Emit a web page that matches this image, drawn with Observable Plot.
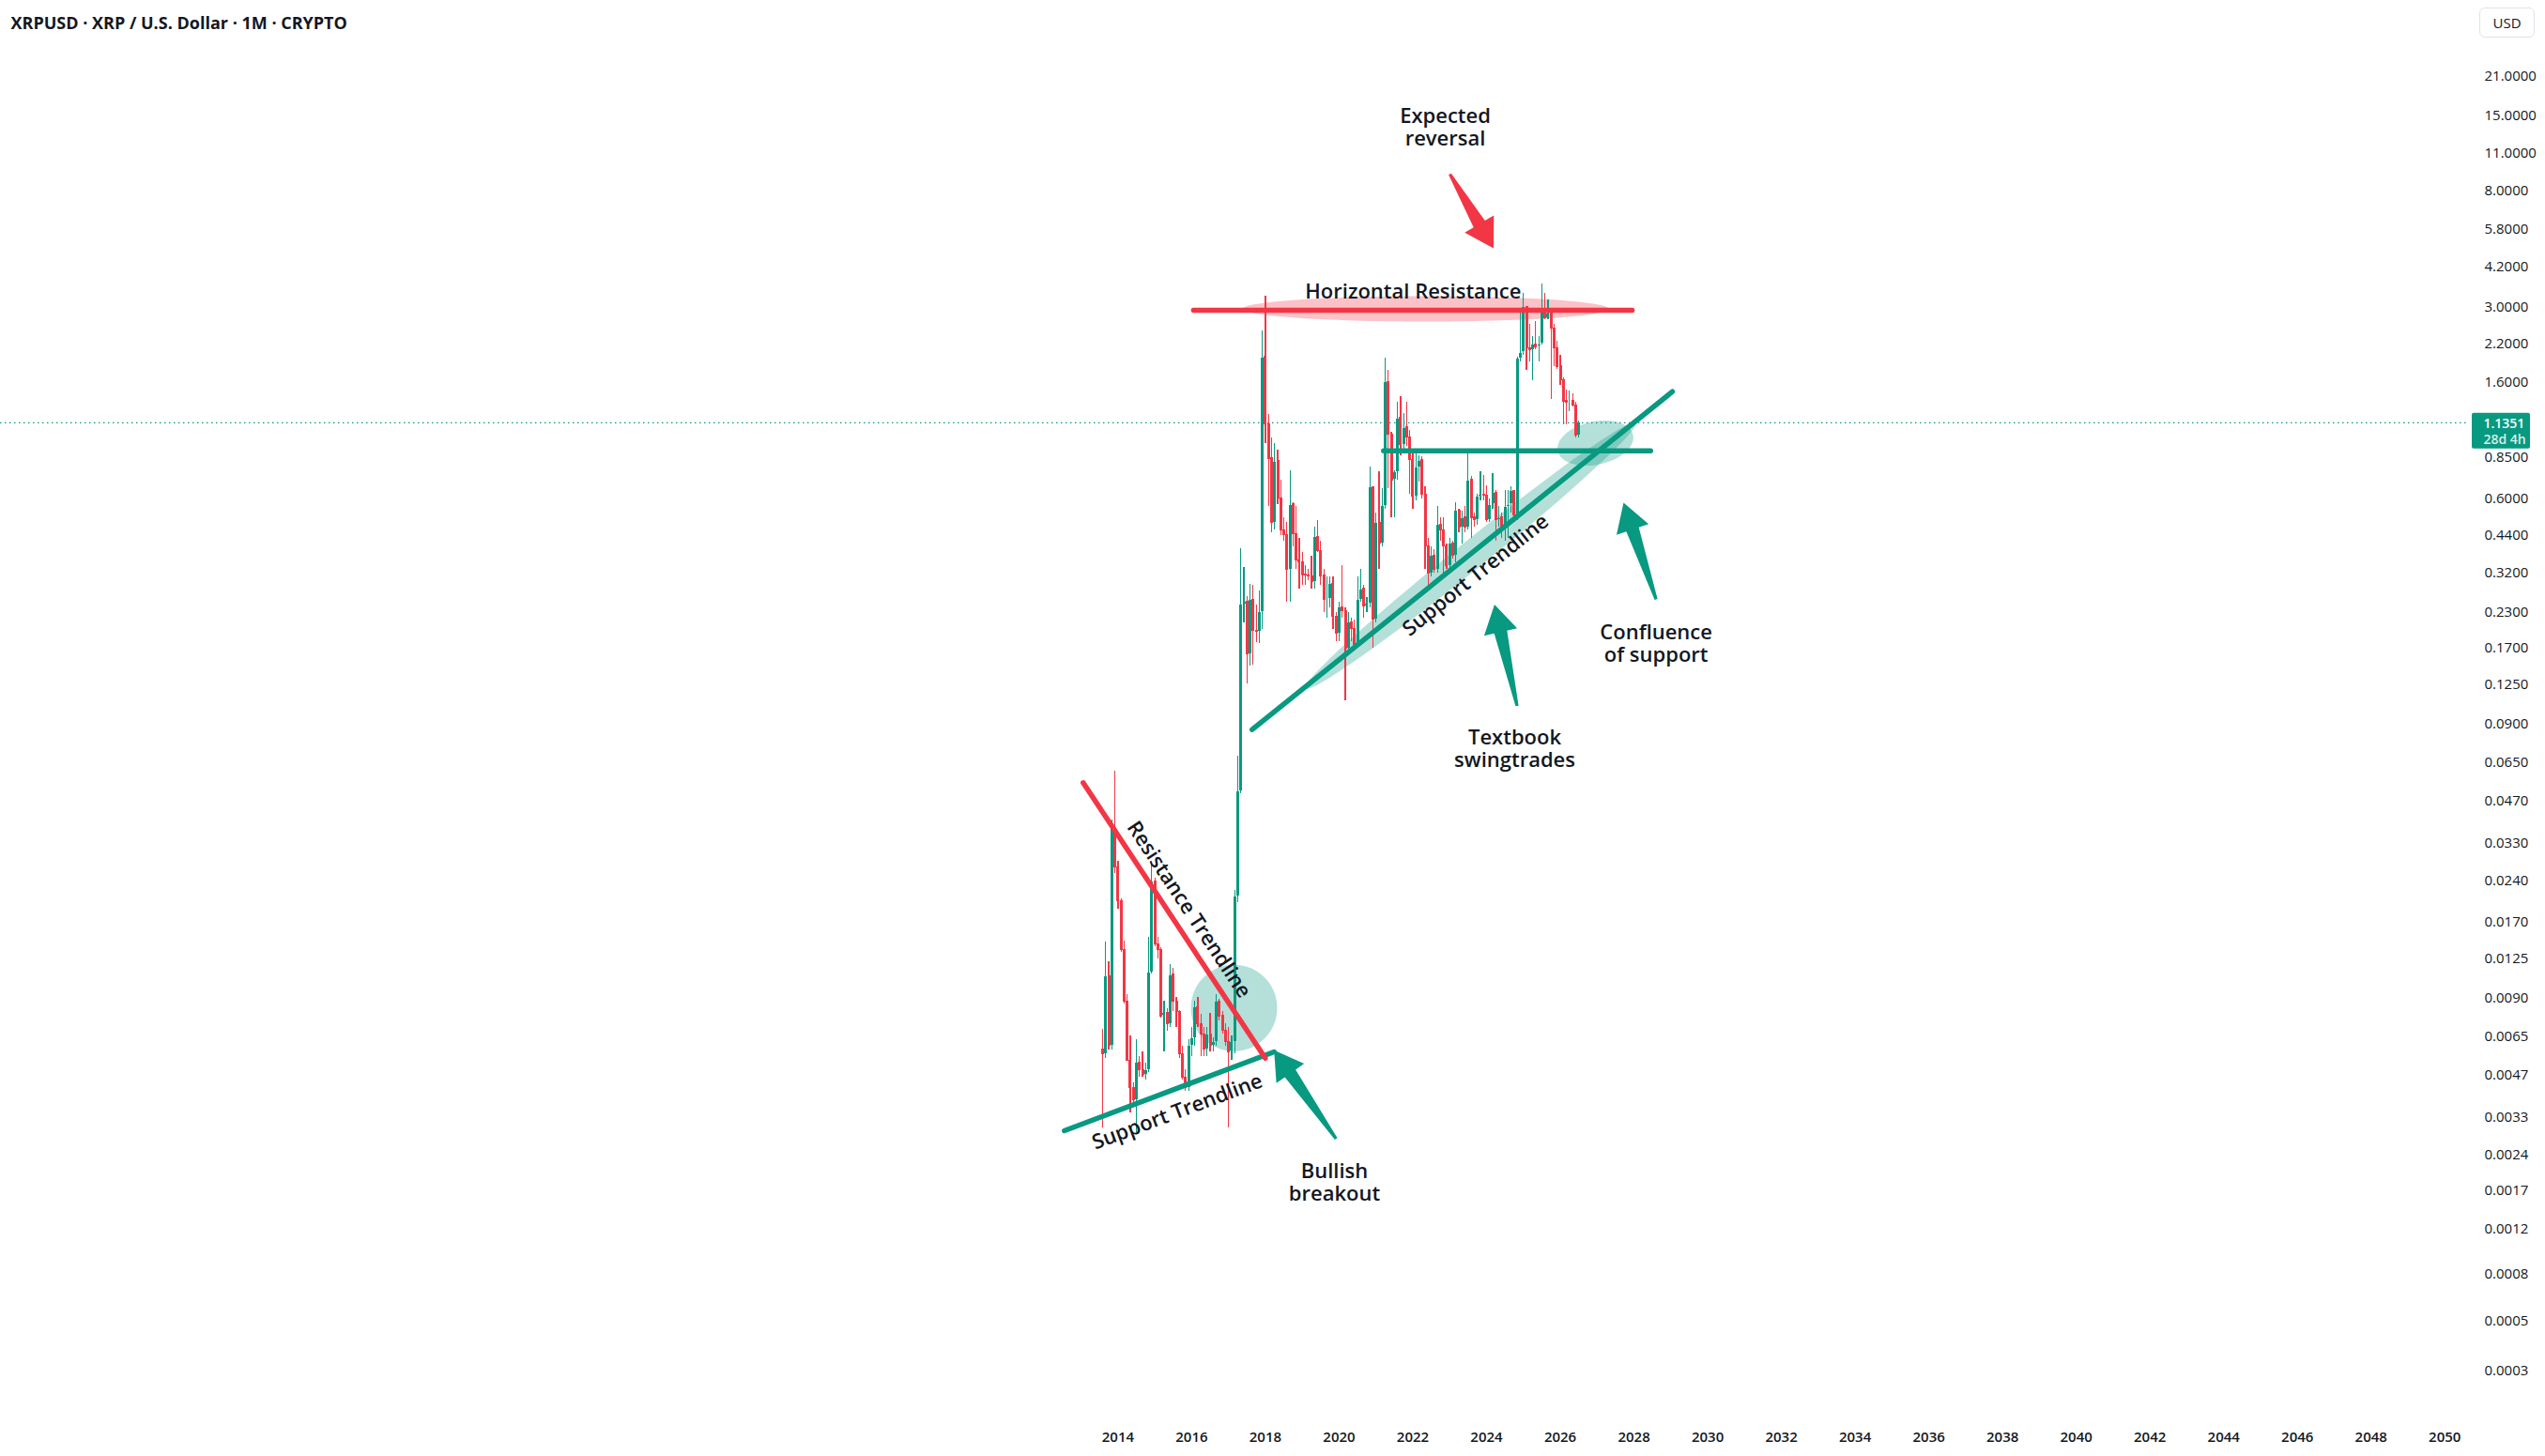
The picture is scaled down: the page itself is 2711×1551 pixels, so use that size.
<!DOCTYPE html>
<html><head><meta charset="utf-8">
<script src="https://cdn.jsdelivr.net/npm/d3@7"></script>
<script src="https://cdn.jsdelivr.net/npm/@observablehq/plot@0.6"></script>
<style>
html,body{margin:0;padding:0;background:#fff;overflow:hidden;}
#wrap{position:relative;width:2711px;height:1551px;overflow:hidden;}
#usd{position:absolute;z-index:2;left:2641px;top:8px;width:59px;height:32px;border:1px solid #e0e3eb;border-radius:6px;box-sizing:border-box;font:15px 'Open Sans',sans-serif;color:#131722;display:flex;align-items:center;justify-content:center;}
</style></head>
<body><div id="wrap"><div id="usd">USD</div></div>
<script>
// ---------- data ----------
const title = "XRPUSD · XRP / U.S. Dollar · 1M · CRYPTO";
const firstYear = 2013, firstMonth = 7; // Aug 2013 (0-based month)
const opens = [
  0.0058,0.0056,0.0108,0.0060,0.0375,
  0.0270,0.0202,0.0134,0.0087,0.0053,0.0042,0.0038,0.0052,0.0049,0.0047,0.0049,0.0111,
  0.0239,0.0141,0.0134,0.0077,0.0079,0.0072,0.0109,0.0087,0.0080,0.0056,0.0046,0.0042,
  0.0060,0.0064,0.0083,0.0072,0.0066,0.0058,0.0066,0.0060,0.0062,0.0087,0.0077,0.0068,
  0.0062,0.0057,0.0062,0.0211,0.0511,0.246,0.252,0.162,0.256,0.197,0.195,0.231,
  1.97,1.12,0.84,0.49,0.82,0.60,0.46,0.44,0.33,0.57,0.445,0.356,
  0.350,0.315,0.314,0.311,0.297,0.434,0.385,0.313,0.255,0.258,0.292,0.222,
  0.193,0.240,0.232,0.170,0.211,0.200,0.175,0.256,0.280,0.242,0.247,0.660,
  0.216,0.488,0.411,0.564,1.596,1.03,0.70,0.75,1.18,0.94,1.09,1.00,
  0.83,0.61,0.78,0.826,0.62,0.40,0.32,0.37,0.33,0.48,0.46,0.40,
  0.34,0.41,0.37,0.54,0.47,0.51,0.47,0.70,0.51,0.50,0.61,0.62,
  0.615,0.50,0.57,0.63,0.50,0.51,0.47,0.56,0.57,0.64,0.52,1.945,
  2.05,3.00,2.13,2.09,2.19,2.15,2.20,2.93,2.74,2.85,2.50,2.13,
  1.82,1.62,1.36,1.34,1.36,1.31,1.02
];
const highs = [
  0.0069,0.0144,0.0122,0.0400,0.0605,
  0.0284,0.0207,0.0145,0.0092,0.0065,0.0044,0.0063,0.0055,0.0057,0.0052,0.0150,0.0277,
  0.0245,0.0150,0.0137,0.0087,0.0082,0.0119,0.0115,0.0090,0.0081,0.0060,0.0049,0.0063,
  0.0070,0.0087,0.0090,0.0078,0.0070,0.0070,0.0079,0.0064,0.0092,0.0089,0.0080,0.0072,
  0.0070,0.0065,0.0222,0.0687,0.393,0.336,0.262,0.292,0.290,0.245,0.275,2.465,
  3.29,1.22,1.00,0.95,0.90,0.70,0.51,0.49,0.76,0.58,0.56,0.43,
  0.38,0.34,0.33,0.37,0.47,0.50,0.42,0.33,0.31,0.31,0.31,0.23,
  0.25,0.34,0.24,0.23,0.22,0.215,0.31,0.33,0.29,0.26,0.78,0.66,
  0.53,0.75,0.65,1.955,1.76,1.05,0.76,1.35,1.41,1.23,1.35,1.06,
  0.91,0.91,0.86,0.85,0.66,0.43,0.40,0.39,0.56,0.51,0.51,0.41,
  0.43,0.42,0.58,0.55,0.54,0.56,0.90,0.72,0.53,0.62,0.75,0.73,
  0.67,0.60,0.74,0.64,0.56,0.53,0.64,0.64,0.66,0.64,1.97,2.90,
  3.38,3.00,2.59,2.35,2.65,2.35,3.66,3.38,3.18,2.95,2.60,2.25,
  2.00,1.65,1.50,1.48,1.45,1.35,1.15
];
const lows = [
  0.0030,0.0054,0.0058,0.0058,0.0255,
  0.0190,0.0132,0.0085,0.0053,0.0034,0.0037,0.0029,0.0046,0.0046,0.0045,0.0048,0.0110,
  0.0138,0.0125,0.0076,0.0057,0.0068,0.0070,0.0080,0.0070,0.0054,0.0045,0.0041,0.0041,
  0.0055,0.0060,0.0070,0.0055,0.0055,0.0055,0.0057,0.0057,0.0060,0.0074,0.0066,0.0060,
  0.0030,0.0053,0.0056,0.0200,0.050,0.211,0.126,0.146,0.148,0.178,0.177,0.200,
  0.95,0.56,0.45,0.46,0.57,0.44,0.42,0.25,0.25,0.40,0.33,0.28,
  0.29,0.29,0.30,0.28,0.28,0.38,0.29,0.23,0.22,0.24,0.20,0.18,
  0.18,0.22,0.109,0.165,0.18,0.17,0.17,0.25,0.22,0.23,0.24,0.17,
  0.21,0.33,0.40,0.55,0.65,0.51,0.51,0.70,0.86,0.89,0.93,0.62,
  0.55,0.59,0.69,0.60,0.33,0.29,0.31,0.32,0.32,0.42,0.31,0.33,
  0.33,0.36,0.35,0.45,0.41,0.45,0.46,0.43,0.47,0.48,0.59,0.59,
  0.49,0.49,0.55,0.42,0.47,0.43,0.42,0.43,0.53,0.49,0.50,1.90,
  2.00,1.77,1.90,1.62,2.10,1.90,2.18,2.70,2.70,1.38,1.82,1.78,
  1.55,1.12,1.12,1.25,1.30,1.00,1.00
];
const closes = [
  0.0056,0.0108,0.0060,0.0375,0.0270,
  0.0202,0.0134,0.0087,0.0053,0.0042,0.0038,0.0052,0.0049,0.0047,0.0049,0.0111,0.0239,
  0.0141,0.0134,0.0077,0.0079,0.0072,0.0109,0.0087,0.0080,0.0056,0.0046,0.0042,0.0060,
  0.0064,0.0083,0.0072,0.0066,0.0058,0.0066,0.0060,0.0062,0.0087,0.0077,0.0068,0.0062,
  0.0057,0.0062,0.0211,0.0511,0.246,0.252,0.162,0.256,0.197,0.195,0.231,1.97,
  1.12,0.84,0.49,0.82,0.60,0.46,0.44,0.33,0.57,0.445,0.356,0.350,
  0.315,0.314,0.311,0.297,0.434,0.385,0.313,0.255,0.258,0.292,0.222,0.193,
  0.240,0.232,0.170,0.211,0.200,0.175,0.256,0.280,0.242,0.247,0.660,0.216,
  0.488,0.411,0.564,1.596,1.03,0.70,0.75,1.18,0.94,1.09,1.00,0.83,
  0.61,0.78,0.826,0.62,0.40,0.32,0.37,0.33,0.48,0.46,0.40,0.34,
  0.41,0.37,0.54,0.47,0.51,0.47,0.70,0.51,0.50,0.61,0.62,0.615,
  0.50,0.57,0.63,0.50,0.51,0.47,0.56,0.57,0.64,0.52,1.945,2.05,
  3.00,2.13,2.09,2.19,2.15,2.20,2.93,2.74,2.85,2.50,2.13,1.82,
  1.62,1.36,1.34,1.36,1.31,1.02,1.1351
];
const lastPrice = 1.1351;
const lastLabel = ["1.1351", "28d 4h"];
const yearTicks = [2014,2016,2018,2020,2022,2024,2026,2028,2030,2032,2034,2036,2038,2040,2042,2044,2046,2048,2050];
const priceTicks = [21,15,11,8,5.8,4.2,3,2.2,1.6,0.85,0.6,0.44,0.32,0.23,0.17,0.125,0.09,0.065,0.047,0.033,0.024,0.017,0.0125,0.009,0.0065,0.0047,0.0033,0.0024,0.00178,0.00128,0.00088,0.00059,0.00039];

// drawings (time in fractional years, price in USD)
const trendlines = [
  {id: "resH",  kind: "red",   t1: 2016.05,  p1: 2.925,     t2: 2027.95,  p2: 2.925},
  {id: "supBig",kind: "green", t1: 2017.640, p1: 0.08584,   t2: 2029.043, p2: 1.4741},
  {id: "supH",  kind: "green", t1: 2021.206, p1: 0.8964,    t2: 2028.450, p2: 0.8964},
  {id: "supSm", kind: "green", t1: 2012.545, p1: 0.0029366, t2: 2018.236, p2: 0.0056986},
  {id: "resSm", kind: "red",   t1: 2013.055, p1: 0.054874,  t2: 2017.997, p2: 0.0054046}
];
const highlights = [
  {id: "resZone",   kind: "red",   t: 2022.35,  p: 2.96,     rx: 195, ry: 13.5, along: null},
  {id: "supBand",   kind: "green", t: 2023.56,  p: 0.3700,   rx: 226, ry: 15,   along: "supBig"},
  {id: "confl",     kind: "green", t: 2026.955, p: 0.9563,   rx: 41,  ry: 23,   along: null, tilt: -12},
  {id: "breakout",  kind: "green", t: 2017.148, p: 0.0082397,rx: 46,  ry: 46,   along: null}
];
const arrows = [
  {kind: "red",   tailT: 2023.006, tailP: 9.193,    tipT: 2024.19,  tipP: 4.926},
  {kind: "green", tailT: 2024.828, tailP: 0.10474,  tipT: 2024.216, tipP: 0.24580},
  {kind: "green", tailT: 2028.600, tailP: 0.25673,  tipT: 2027.718, tipP: 0.57922},
  {kind: "green", tailT: 2019.918, tailP: 0.0027412,tipT: 2018.235, tipP: 0.0057761}
];
const notes = [
  {t: 2022.01,  p: 3.426,     text: "Horizontal Resistance"},
  {t: 2022.88,  p: 13.64,     text: "Expected\nreversal"},
  {t: 2024.764, p: 0.07313,   text: "Textbook\nswingtrades"},
  {t: 2028.600, p: 0.1771,    text: "Confluence\nof support"},
  {t: 2019.874, p: 0.0019017, text: "Bullish\nbreakout"}
];
const lineNotes = [
  {t: 2015.938, p: 0.01894,   text: "Resistance Trendline", along: "resSm"},
  {t: 2015.602, p: 0.0034579, text: "Support Trendline",    along: "supSm"},
  {t: 2023.694, p: 0.31598,   text: "Support Trendline",    along: "supBig"}
];

// ---------- build ----------
const UP = "#089981", DOWN = "#F23645", INK = "#131722";
const COLORS = {red: DOWN, green: UP};
const W = 2711, H = 1551, MR = 83, MB = 41;
const X_DOMAIN = [1983.679, 2050.617];
const Y_DOMAIN = [0.00026183, 39.64];
const FONT = "'Open Sans', 'Noto Sans', sans-serif";

const candles = closes.map((c, i) => ({
  t: firstYear + (firstMonth + i) / 12, o: opens[i], h: highs[i], l: lows[i], c
}));

const sx = Plot.scale({x: {domain: X_DOMAIN, range: [0, W - MR]}});
const sy = Plot.scale({y: {type: "log", domain: Y_DOMAIN, range: [H - MB, 0]}});
const lineById = Object.fromEntries(trendlines.map(d => [d.id, d]));
function angleOf(id) {
  const l = lineById[id];
  const dx = sx.apply(l.t2) - sx.apply(l.t1), dy = sy.apply(l.p2) - sy.apply(l.p1);
  return Math.atan2(dy, dx) * 180 / Math.PI;
}
function ellipseSymbol(rx, ry) {
  const k = 0.5522847;
  return {draw(ctx) {
    ctx.moveTo(rx, 0);
    ctx.bezierCurveTo(rx, ry * k, rx * k, ry, 0, ry);
    ctx.bezierCurveTo(-rx * k, ry, -rx, ry * k, -rx, 0);
    ctx.bezierCurveTo(-rx, -ry * k, -rx * k, -ry, 0, -ry);
    ctx.bezierCurveTo(rx * k, -ry, rx, -ry * k, rx, 0);
    ctx.closePath();
  }};
}
const arrowShape = {draw(ctx, l) {
  const hl = 30, hw = 18, s1 = 7, s0 = 1.6;
  ctx.moveTo(-s0, 0);
  ctx.lineTo(-s1, -(l - hl));
  ctx.lineTo(-hw, -(l - hl));
  ctx.lineTo(0, -l);
  ctx.lineTo(hw, -(l - hl));
  ctx.lineTo(s1, -(l - hl));
  ctx.lineTo(s0, 0);
  ctx.closePath();
}};
const fmtPrice = d => (Math.floor(d * 10000 + 1e-6) / 10000).toFixed(4);

const marks = [];
for (const h of highlights) {
  const rot = h.along ? angleOf(h.along) : (h.tilt || 0);
  marks.push(Plot.dot([h], {x: "t", y: "p", symbol: ellipseSymbol(h.rx, h.ry), r: 5, rotate: rot,
    fill: COLORS[h.kind], fillOpacity: 0.3, stroke: "none"}));
}
marks.push(Plot.ruleY([lastPrice], {stroke: UP, strokeWidth: 1.2, strokeDasharray: "1.5,3.5"}));
marks.push(Plot.ruleX(candles, {x: "t", y1: "l", y2: "h", stroke: d => d.c >= d.o ? UP : DOWN,
  strokeWidth: 1.2, shapeRendering: "crispEdges"}));
marks.push(Plot.ruleX(candles, {x: "t", y1: "o", y2: "c", stroke: d => d.c >= d.o ? UP : DOWN,
  strokeWidth: 3, insetTop: -0.6, insetBottom: -0.6, shapeRendering: "crispEdges"}));
marks.push(Plot.link(trendlines, {x1: "t1", y1: "p1", x2: "t2", y2: "p2", stroke: d => COLORS[d.kind],
  strokeWidth: 5.5, strokeLinecap: "round"}));
for (const a of arrows) {
  const x0 = sx.apply(a.tailT), y0 = sy.apply(a.tailP), x1 = sx.apply(a.tipT), y1 = sy.apply(a.tipP);
  const len = Math.hypot(x1 - x0, y1 - y0);
  const ang = Math.atan2(x1 - x0, -(y1 - y0)) * 180 / Math.PI;
  marks.push(Plot.vector([a], {x: "tailT", y: "tailP", length: len, rotate: ang, shape: arrowShape,
    anchor: "start", fill: COLORS[a.kind], stroke: "none"}));
}
const textStyle = {fill: INK, fontSize: 22, fontWeight: 600, fontFamily: FONT, lineHeight: 1.1};
marks.push(Plot.text(notes, {x: "t", y: "p", text: "text", ...textStyle}));
for (const n of lineNotes) {
  marks.push(Plot.text([n], {x: "t", y: "p", text: "text", rotate: angleOf(n.along), ...textStyle}));
}
// time axis
marks.push(Plot.axisX({ticks: yearTicks, tickFormat: d => String(d), tickSize: 0, tickPadding: 15,
  fontSize: 15, fontWeight: 600, color: INK}));
// price axis (labels drawn as text at the scale positions)
marks.push(Plot.text(priceTicks, {y: d => d, text: fmtPrice, frameAnchor: "right", dx: 18,
  textAnchor: "start", fill: INK, fontSize: 15}));
// last price label
marks.push(Plot.rect([lastPrice], {y1: d => d, y2: d => d, fill: UP, rx: 2,
  insetLeft: W - MR + 5, insetRight: -67, insetTop: -10, insetBottom: -28}));
marks.push(Plot.text([lastPrice], {y: d => d, text: () => lastLabel[0], frameAnchor: "right", dx: 17, dy: 1,
  textAnchor: "start", fill: "white", fontSize: 14, fontWeight: 600}));
marks.push(Plot.text([lastPrice], {y: d => d, text: () => lastLabel[1], frameAnchor: "right", dx: 17, dy: 18,
  textAnchor: "start", fill: "white", fillOpacity: 0.85, fontSize: 14, fontWeight: 600}));
marks.push(Plot.text([title], {text: d => d, frameAnchor: "top-left", dx: 11, dy: 25, textAnchor: "start",
  lineAnchor: "middle", fill: INK, fontSize: 18, fontWeight: 700}));

const chart = Plot.plot({
  width: W, height: H,
  marginLeft: 0, marginRight: MR, marginTop: 0, marginBottom: MB,
  x: {domain: X_DOMAIN},
  y: {type: "log", domain: Y_DOMAIN, axis: null},
  style: {fontFamily: FONT, background: "white", color: INK, overflow: "visible"},
  marks
});
document.getElementById("wrap").appendChild(chart);
</script>
</body></html>
